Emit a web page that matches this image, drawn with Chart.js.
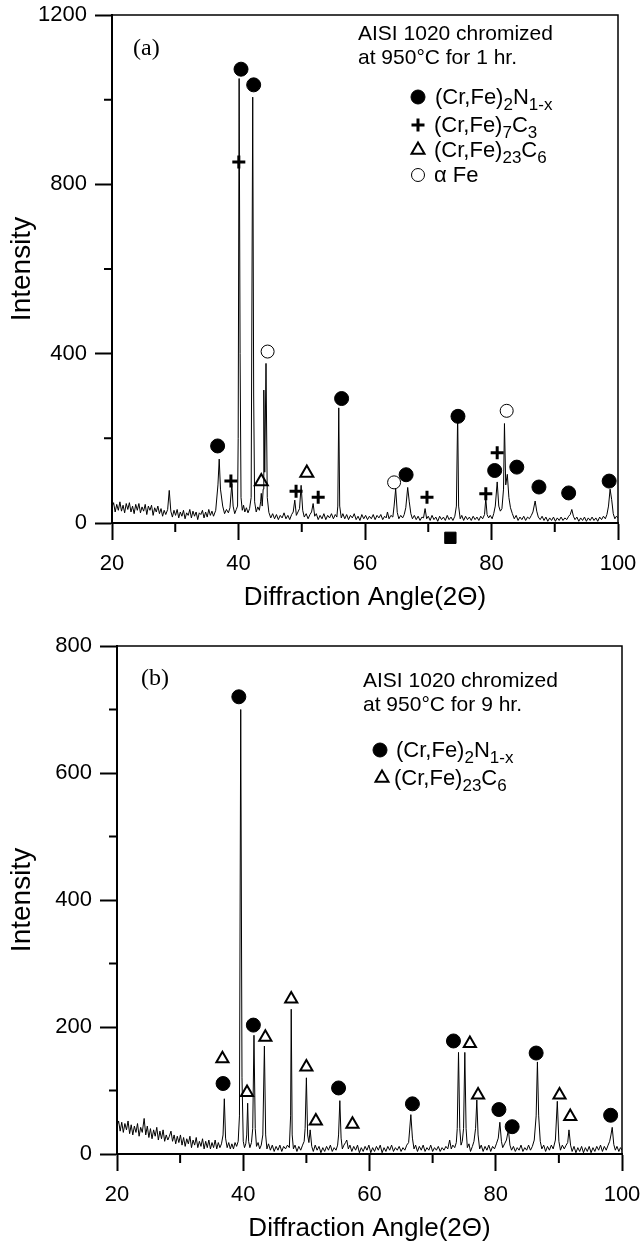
<!DOCTYPE html>
<html>
<head>
<meta charset="utf-8">
<script src="https://cdn.jsdelivr.net/npm/chart.js@4.4.1/dist/chart.umd.min.js"></script>
<style>
  body { margin: 0; background: #fff; }
  canvas { display: block; }
</style>
</head>
<body>
<canvas id="chartA" width="643" height="620"></canvas>
<canvas id="chartB" width="643" height="624"></canvas>
<script>
// ---- values ----
const xTicks = [20, 40, 60, 80, 100];
const xMinor = [30, 50, 70, 90];
const yTicksA = [0, 400, 800, 1200];
const yMinorA = [200, 600, 1000];
const yTicksB = [0, 200, 400, 600, 800];
const yMinorB = [100, 300, 500, 700];

// (a) 1 hr : [2theta, intensity]
const traceA = [
  [20,38],[20.25,48],[20.5,26],[20.75,44],[21,30],[21.25,50],[21.5,28],[21.75,42],[22,24],[22.25,46],
  [22.5,32],[22.75,48],[23,26],[23.25,40],[23.5,22],[23.75,44],[24,30],[24.25,46],[24.5,24],[24.75,38],
  [25,28],[25.25,44],[25.5,20],[25.75,40],[26,30],[26.25,42],[26.5,18],[26.75,36],[27,26],[27.25,40],
  [27.5,22],[27.75,34],[28,16],[28.25,30],[28.5,20],[28.8,32],[29.05,77],[29.3,28],[29.55,14],[29.8,30],
  [30.05,18],[30.3,32],[30.55,12],[30.8,26],[31.05,16],[31.3,30],[31.55,10],[31.8,24],[32.05,18],[32.3,32],
  [32.55,12],[32.8,28],[33.05,16],[33.3,26],[33.55,8],[33.8,24],[34.05,20],[34.3,30],[34.55,12],[34.8,26],
  [35.05,14],[35.3,32],[35.55,18],[35.8,28],[36.05,16],[36.4,30],[36.75,90],[36.95,151],[37.15,80],[37.5,40],
  [37.8,22],[38.1,32],[38.4,24],[38.65,36],[38.95,93],[39.15,40],[39.4,22],[39.65,32],[39.85,40],[39.95,200],
  [40.1,1050],[40.25,400],[40.4,60],[40.6,30],[40.8,42],[41.0,26],[41.25,36],[41.5,24],[41.75,34],[42.0,60],
  [42.25,1006],[42.4,300],[42.55,50],[42.8,26],[43.05,38],[43.3,30],[43.5,50],[43.6,70],[43.75,40],[43.9,80],
  [44.0,314],[44.15,120],[44.35,377],[44.55,60],[44.8,25],[45.1,12],[45.4,22],[45.7,10],[46.0,20],[46.3,8],
  [46.6,18],[46.9,12],[47.2,24],[47.5,10],[47.8,18],[48.1,8],[48.4,20],[48.65,26],[48.9,54],[49.15,18],
  [49.4,26],[49.65,34],[49.9,89],[50.15,30],[50.4,14],[50.7,22],[51.0,10],[51.3,20],[51.55,26],[51.8,46],
  [52.05,16],[52.3,22],[52.6,8],[52.9,18],[53.2,10],[53.5,22],[53.8,8],[54.1,18],[54.4,12],[54.7,22],
  [55.0,10],[55.3,20],[55.55,14],[55.7,40],[55.85,272],[56.0,40],[56.25,12],[56.5,22],[56.8,10],[57.1,20],
  [57.4,8],[57.7,18],[58.0,12],[58.3,22],[58.6,8],[58.9,16],[59.2,6],[59.5,20],[59.8,10],[60.1,18],
  [60.4,8],[60.7,16],[61.0,10],[61.3,20],[61.6,8],[61.9,18],[62.2,12],[62.5,20],[62.8,8],[63.1,16],
  [63.35,12],[63.55,26],[63.8,10],[64.1,18],[64.4,14],[64.6,40],[64.85,81],[65.1,25],[65.35,10],[65.65,18],
  [65.95,12],[66.2,20],[66.45,36],[66.75,84],[67.0,50],[67.25,22],[67.5,10],[67.8,18],[68.1,8],[68.4,16],
  [68.7,6],[69.0,14],[69.25,12],[69.5,34],[69.75,10],[70.0,16],[70.3,6],[70.6,18],[70.9,8],[71.2,14],
  [71.5,4],[71.8,16],[72.1,8],[72.4,14],[72.7,6],[73.0,18],[73.3,8],[73.6,14],[73.9,6],[74.2,16],
  [74.45,40],[74.65,259],[74.8,40],[75.05,10],[75.3,18],[75.6,6],[75.9,16],[76.2,8],[76.5,14],[76.8,6],
  [77.1,16],[77.4,8],[77.7,14],[78.0,6],[78.3,16],[78.6,10],[78.9,20],[79.1,58],[79.3,20],[79.55,12],
  [79.8,18],[80.1,10],[80.35,22],[80.6,40],[80.9,97],[81.15,40],[81.4,28],[81.65,34],[81.9,80],[82.05,235],
  [82.25,90],[82.5,115],[82.75,60],[83.0,36],[83.3,22],[83.6,10],[83.9,18],[84.2,6],[84.5,14],[84.8,8],
  [85.1,16],[85.4,6],[85.7,14],[86.0,10],[86.3,18],[86.55,26],[86.9,52],[87.15,28],[87.4,14],[87.7,8],
  [88.0,16],[88.3,6],[88.6,14],[88.9,4],[89.2,12],[89.5,6],[89.8,14],[90.1,4],[90.4,12],[90.7,6],
  [91.0,14],[91.3,6],[91.6,12],[91.9,8],[92.2,16],[92.45,20],[92.7,32],[92.95,16],[93.2,8],[93.5,14],
  [93.8,4],[94.1,12],[94.4,6],[94.7,14],[95.0,4],[95.3,12],[95.6,6],[95.9,14],[96.2,6],[96.5,12],
  [96.8,4],[97.1,14],[97.4,8],[97.7,16],[98.0,10],[98.25,20],[98.5,40],[98.75,80],[99.0,55],[99.25,22],
  [99.5,10],[99.75,16],[100,12]
];
const nitrideA = [[36.7,182],[40.4,1072],[42.4,1035],[56.3,294],[66.5,114],[74.7,252],[80.5,124],[84.0,132],[87.5,85],[92.2,71],[98.6,99]];
const m7c3A = [[38.8,99],[40.05,853],[49.1,75],[52.6,61],[69.8,61],[79.1,69],[80.9,166]];
const m23c6A = [[43.6,98],[50.8,118]];
const alphaFeA = [[44.6,405],[64.6,96],[82.4,265]];
const squareA = [[73.5,-35]];

// (b) 9 hr
const traceB = [
  [20,44],[20.25,52],[20.5,36],[20.75,50],[21,34],[21.25,48],[21.5,38],[21.75,52],[22,32],[22.25,46],
  [22.5,30],[22.75,44],[23,34],[23.25,48],[23.5,28],[23.75,42],[24,34],[24.3,56],[24.55,30],[24.8,44],
  [25.05,26],[25.3,40],[25.55,24],[25.8,38],[26.05,28],[26.3,42],[26.55,22],[26.8,36],[27.05,24],[27.3,38],
  [27.55,20],[27.8,30],[28.05,22],[28.3,28],[28.55,36],[28.8,20],[29.05,30],[29.3,16],[29.55,28],[29.8,18],
  [30.05,30],[30.3,14],[30.55,26],[30.8,12],[31.05,24],[31.3,16],[31.55,28],[31.8,10],[32.05,22],[32.3,14],
  [32.55,26],[32.8,10],[33.05,20],[33.3,12],[33.55,24],[33.8,8],[34.05,20],[34.3,10],[34.55,22],[34.8,8],
  [35.05,18],[35.3,10],[35.55,22],[35.8,8],[36.05,18],[36.3,10],[36.55,16],[36.8,30],[37.0,87],[37.2,25],
  [37.45,10],[37.7,18],[37.95,8],[38.2,16],[38.45,8],[38.7,18],[38.95,12],[39.2,20],[39.4,60],[39.6,700],
  [39.8,120],[40.0,20],[40.2,10],[40.4,16],[40.55,30],[40.7,80],[40.85,20],[41.05,10],[41.3,18],[41.5,40],
  [41.7,187],[41.9,40],[42.1,12],[42.35,18],[42.6,8],[42.85,14],[43.1,30],[43.35,170],[43.55,30],[43.75,8],
  [44.0,16],[44.3,6],[44.6,14],[44.9,4],[45.2,12],[45.5,6],[45.8,14],[46.1,4],[46.4,12],[46.7,8],
  [47.0,14],[47.3,10],[47.5,60],[47.6,228],[47.75,30],[47.95,8],[48.2,14],[48.5,4],[48.8,12],[49.1,6],
  [49.4,14],[49.65,20],[49.8,40],[50.0,120],[50.2,30],[50.4,18],[50.6,38],[50.85,12],[51.1,4],[51.4,14],
  [51.7,6],[52.0,12],[52.3,2],[52.6,10],[52.9,4],[53.2,12],[53.5,6],[53.8,14],[54.1,4],[54.4,10],
  [54.7,6],[54.95,14],[55.1,30],[55.3,84],[55.5,25],[55.7,8],[55.95,14],[56.2,18],[56.4,22],[56.65,8],
  [56.9,14],[57.2,4],[57.5,12],[57.8,6],[58.1,14],[58.4,2],[58.7,10],[59.0,4],[59.3,12],[59.6,6],
  [59.9,14],[60.2,2],[60.5,10],[60.8,4],[61.1,12],[61.4,6],[61.7,14],[62.0,2],[62.3,10],[62.6,4],
  [62.9,12],[63.2,6],[63.5,14],[63.8,4],[64.1,10],[64.4,6],[64.7,12],[65.0,4],[65.3,10],[65.6,6],
  [65.9,14],[66.2,18],[66.55,62],[66.8,25],[67.05,8],[67.3,14],[67.6,4],[67.9,12],[68.2,6],[68.5,14],
  [68.8,4],[69.1,10],[69.4,6],[69.7,14],[70.0,4],[70.3,10],[70.6,6],[70.9,12],[71.2,4],[71.5,10],
  [71.8,6],[72.1,12],[72.4,8],[72.7,22],[72.95,8],[73.2,14],[73.5,10],[73.75,18],[73.9,40],[74.1,160],
  [74.3,40],[74.5,14],[74.7,20],[74.9,40],[75.1,160],[75.3,40],[75.5,10],[75.75,16],[76.0,4],[76.3,12],
  [76.55,20],[76.8,40],[77.0,85],[77.2,30],[77.45,8],[77.7,14],[78.0,4],[78.3,12],[78.6,6],[78.9,14],
  [79.2,4],[79.5,12],[79.8,8],[80.1,16],[80.4,25],[80.65,50],[80.9,20],[81.1,10],[81.4,16],[81.7,22],
  [82.0,38],[82.25,14],[82.5,6],[82.8,12],[83.1,4],[83.4,10],[83.7,6],[84.0,14],[84.3,4],[84.6,10],
  [84.9,6],[85.2,14],[85.5,6],[85.8,12],[86.1,22],[86.4,60],[86.6,145],[86.8,60],[87.05,20],[87.3,8],
  [87.6,14],[87.9,4],[88.2,12],[88.5,6],[88.8,14],[89.1,8],[89.45,22],[89.75,83],[90.0,20],[90.25,6],
  [90.55,14],[90.85,8],[91.15,14],[91.4,18],[91.6,38],[91.85,14],[92.1,4],[92.4,12],[92.7,2],[93.0,10],
  [93.3,4],[93.6,12],[93.9,2],[94.2,10],[94.5,4],[94.8,12],[95.1,2],[95.4,10],[95.7,4],[96.0,12],
  [96.3,6],[96.6,14],[96.9,4],[97.2,12],[97.5,6],[97.8,14],[98.05,20],[98.25,30],[98.45,42],[98.7,15],
  [98.95,6],[99.2,12],[99.5,4],[99.75,10],[100,6]
];
const nitrideB = [[36.8,111],[39.3,720],[41.6,203],[55.1,104],[66.8,79],[73.3,178],[80.5,70],[82.6,43],[86.4,159],[98.2,61]];
const m23c6B = [[36.7,150],[40.6,97],[43.5,184],[47.6,244],[50.0,137],[51.5,52],[57.3,47],[75.9,174],[77.2,93],[90.1,93],[91.8,59]];

const captionA = ['AISI 1020 chromized', 'at 950\u00B0C for 1 hr.'];
const captionB = ['AISI 1020 chromized', 'at 950\u00B0C for 9 hr.'];
// phase names: [text, isSubscript] runs
const phaseNitride = [['(Cr,Fe)', 0], ['2', 1], ['N', 0], ['1-x', 1]];
const phaseM7C3 = [['(Cr,Fe)', 0], ['7', 1], ['C', 0], ['3', 1]];
const phaseM23C6 = [['(Cr,Fe)', 0], ['23', 1], ['C', 0], ['6', 1]];
const phaseAlphaFe = [['\u03B1 Fe', 0]];

const SANS = '"Liberation Sans", Arial, Helvetica, sans-serif';
const SERIF = '"Liberation Serif", "Times New Roman", serif';

const styles = {
  dot:      { pointStyle: 'circle',   radius: 7,   fill: '#000', borderWidth: 1 },
  plus:     { pointStyle: 'cross',    radius: 6.5, fill: '#000', borderWidth: 3 },
  triangle: { pointStyle: 'triangle', radius: 7.5, fill: 'rgba(0,0,0,0)', borderWidth: 2 },
  ring:     { pointStyle: 'circle',   radius: 6.5, fill: 'rgba(0,0,0,0)', borderWidth: 1 },
  square:   { pointStyle: 'rect',     radius: 8,   fill: '#000', borderWidth: 1 }
};

function toXY(list) {
  return list.map(p => ({ x: p[0], y: p[1] }));
}

function markSet(list, st) {
  return {
    data: toXY(list),
    pointStyle: st.pointStyle,
    pointRadius: st.radius,
    pointBackgroundColor: st.fill,
    pointBorderColor: '#000',
    pointBorderWidth: st.borderWidth,
    showLine: false,
    clip: false
  };
}

function drawRuns(ctx, runs, x, y) {
  runs.forEach(r => {
    const sub = r[1] === 1;
    ctx.font = (sub ? 17 : 22) + 'px ' + SANS;
    ctx.fillText(r[0], x, sub ? y + 6 : y);
    x += ctx.measureText(r[0]).width;
  });
}

function drawSymbol(ctx, st, x, y) {
  ctx.save();
  ctx.fillStyle = st.fill;
  ctx.strokeStyle = '#000';
  ctx.lineWidth = st.borderWidth;
  Chart.helpers.drawPoint(ctx, { pointStyle: st.pointStyle, radius: st.radius, rotation: 0, borderWidth: st.borderWidth }, x, y);
  ctx.restore();
}

// frame on top/right, short minor ticks, off-axis marks and the in-plot notes
const framePlugin = {
  id: 'frame',
  afterDraw(chart, args, opts) {
    const { ctx, chartArea: a, scales } = chart;
    ctx.save();
    ctx.strokeStyle = '#000';
    ctx.lineWidth = 1.5;
    ctx.beginPath();
    ctx.moveTo(a.left, a.top);
    ctx.lineTo(a.right, a.top);
    ctx.lineTo(a.right, a.bottom);
    ctx.stroke();
    ctx.lineWidth = 2;
    ctx.beginPath();
    opts.minorX.forEach(v => {
      const px = scales.x.getPixelForValue(v);
      ctx.moveTo(px, a.bottom);
      ctx.lineTo(px, a.bottom + 9);
    });
    opts.minorY.forEach(v => {
      const py = scales.y.getPixelForValue(v);
      ctx.moveTo(a.left, py);
      ctx.lineTo(a.left - 8, py);
    });
    ctx.stroke();

    // marks that sit below the axis (outside the chart area)
    (opts.outside || []).forEach(m => {
      m.list.forEach(p => {
        drawSymbol(ctx, styles[m.sym], scales.x.getPixelForValue(p[0]), scales.y.getPixelForValue(p[1]));
      });
    });

    ctx.fillStyle = '#000';
    ctx.textBaseline = 'alphabetic';
    ctx.textAlign = 'left';
    ctx.font = '24px ' + SERIF;
    ctx.fillText(opts.tag, opts.tagX, opts.tagY);
    opts.caption.forEach((line, i) => {
      ctx.font = '21px ' + SANS;
      ctx.fillText(line, opts.capX, opts.capY + i * opts.capStep);
    });
    opts.rows.forEach(row => {
      drawSymbol(ctx, styles[row.sym], row.sx, row.y);
      ctx.fillStyle = '#000';
      drawRuns(ctx, row.runs, row.tx, row.y + 7);
    });
    ctx.restore();
  }
};

function makeChart(id, cfg) {
  return new Chart(document.getElementById(id), {
    type: 'scatter',
    data: {
      datasets: [{
        data: toXY(cfg.trace),
        showLine: true,
        borderColor: '#000',
        borderWidth: 1,
        pointRadius: 0,
        tension: 0
      }].concat(cfg.marks)
    },
    options: {
      responsive: false,
      animation: false,
      events: [],
      layout: { padding: cfg.padding },
      plugins: {
        legend: { display: false },
        tooltip: { enabled: false },
        frame: cfg.frame
      },
      scales: {
        x: {
          type: 'linear',
          min: 20,
          max: 100,
          afterFit(s) { s.height = cfg.xHeight; s.paddingLeft = 0; s.paddingRight = 0; },
          border: { display: true, color: '#000', width: 2 },
          grid: {
            display: true,
            drawOnChartArea: false,
            drawTicks: true,
            tickLength: 17,
            tickWidth: 2,
            tickColor: c => (xTicks.includes(c.tick.value) ? '#000' : 'rgba(0,0,0,0)')
          },
          ticks: {
            stepSize: 10,
            padding: 11,
            maxRotation: 0,
            autoSkip: false,
            color: '#000',
            font: { family: SANS, size: 22 },
            callback: v => (xTicks.includes(v) ? String(v) : '')
          },
          title: {
            display: true,
            text: 'Diffraction Angle(2\u0398)',
            color: '#000',
            font: { family: SANS, size: 26 },
            padding: { top: 0, bottom: cfg.xTitlePad }
          }
        },
        y: {
          type: 'linear',
          min: 0,
          max: cfg.yMax,
          afterFit(s) { s.width = cfg.yWidth; s.paddingTop = 0; s.paddingBottom = 0; },
          border: { display: true, color: '#000', width: 2 },
          grid: {
            display: true,
            drawOnChartArea: false,
            drawTicks: true,
            tickLength: 17,
            tickWidth: 2,
            tickColor: c => (cfg.yTicks.includes(c.tick.value) ? '#000' : 'rgba(0,0,0,0)')
          },
          ticks: {
            stepSize: cfg.yStep,
            padding: 8,
            autoSkip: false,
            color: '#000',
            font: { family: SANS, size: 22 },
            callback: v => (cfg.yTicks.includes(v) ? String(v) : '')
          },
          title: {
            display: true,
            text: 'Intensity',
            color: '#000',
            font: { family: SANS, size: 28 },
            padding: { top: 5, bottom: 0 }
          }
        }
      }
    },
    plugins: [framePlugin]
  });
}

makeChart('chartA', {
  trace: traceA,
  marks: [
    markSet(nitrideA, styles.dot),
    markSet(m7c3A, styles.plus),
    markSet(m23c6A, styles.triangle),
    markSet(alphaFeA, styles.ring)
  ],
  padding: { left: 0, right: 25, top: 15, bottom: 0 },
  xHeight: 97,
  xTitlePad: 7,
  yWidth: 112,
  yMax: 1200,
  yStep: 200,
  yTicks: yTicksA,
  frame: {
    minorX: xMinor, minorY: yMinorA,
    outside: [{ sym: 'square', list: squareA }],
    tag: '(a)', tagX: 133, tagY: 55,
    caption: captionA, capX: 358, capY: 40, capStep: 24,
    rows: [
      { sym: 'dot', sx: 418, tx: 435, y: 97, runs: phaseNitride },
      { sym: 'plus', sx: 418, tx: 434, y: 125, runs: phaseM7C3 },
      { sym: 'triangle', sx: 418, tx: 434, y: 150, runs: phaseM23C6 },
      { sym: 'ring', sx: 418, tx: 434, y: 175, runs: phaseAlphaFe }
    ]
  }
});

makeChart('chartB', {
  trace: traceB,
  marks: [
    markSet(nitrideB, styles.dot),
    markSet(m23c6B, Object.assign({}, styles.triangle, { radius: 7 }))
  ],
  padding: { left: 0, right: 21, top: 26, bottom: 0 },
  xHeight: 90,
  xTitlePad: 0,
  yWidth: 117,
  yMax: 800,
  yStep: 100,
  yTicks: yTicksB,
  frame: {
    minorX: xMinor, minorY: yMinorB,
    tag: '(b)', tagX: 141, tagY: 65,
    caption: captionB, capX: 363, capY: 67, capStep: 24,
    rows: [
      { sym: 'dot', sx: 380, tx: 396, y: 130, runs: phaseNitride },
      { sym: 'triangle', sx: 382, tx: 394, y: 158, runs: phaseM23C6 }
    ]
  }
});
</script>
</body>
</html>
